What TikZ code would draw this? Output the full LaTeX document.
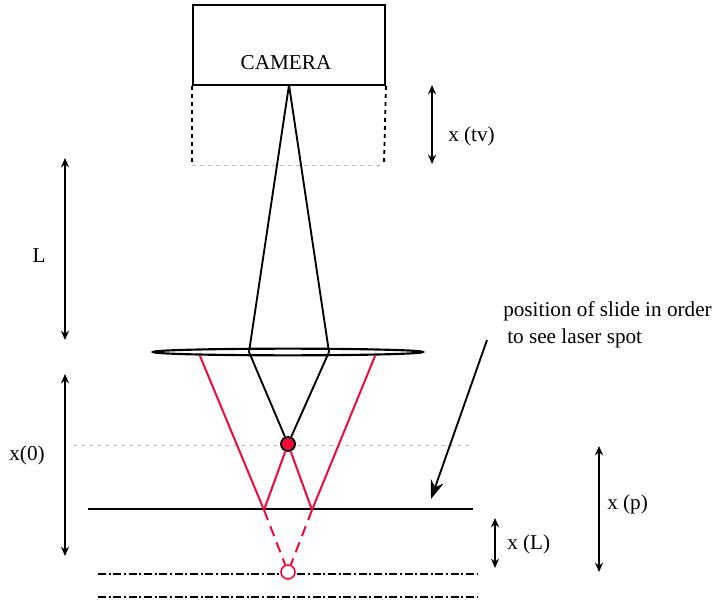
\documentclass[tikz,border=0pt]{standalone}
\usepackage{fontspec}
\setmainfont{Liberation Serif}
\usetikzlibrary{arrows.meta,positioning,calc,shapes.geometric}

\tikzset{
  label text/.style={font=\fontsize{15.9}{18}\selectfont,inner sep=0pt},
  ray/.style={line width=1.4pt},
  red ray/.style={line width=1.5pt,laserred},
  measure/.style={{Stealth[length=7pt,width=6pt]}-{Stealth[length=7pt,width=6pt]},line width=1.4pt},
  guide/.style={dashed,gray!50,line width=0.6pt},
  slide/.style={line width=1.4pt,dash pattern=on 6pt off 2pt on 1.5pt off 2pt}
}
\definecolor{laserred}{RGB}{240,10,60}

\begin{document}
\begin{tikzpicture}[x=0.75pt,y=-0.75pt]
  \useasboundingbox (0,0) rectangle (712,605);

  % Camera
  \node[draw,line width=1.4pt,minimum width=144pt,minimum height=60pt,inner sep=0pt] (camera) at (289,45) {};
  \node[label text] (cameratext) at (286,63) {CAMERA};
  \coordinate (apex) at (289,85);

  % Shifted camera position
  \coordinate (shiftL) at (192,165);
  \coordinate (shiftR) at (384,165);
  \draw[line width=1.4pt,dashed] (camera.south west) -- (shiftL);
  \draw[line width=1.4pt,dashed] (camera.south east) -- (shiftR);
  \draw[guide] (shiftL) -- (shiftR);

  % Lens
  \node[ellipse,draw,fill=white,line width=1.6pt,minimum width=202pt,minimum height=5pt,inner sep=0pt] (lens) at (288,352) {};
  \coordinate (lensL) at (249,352);
  \coordinate (lensR) at (329,352);
  \coordinate (lensLL) at (200,356);
  \coordinate (lensRR) at (375,356);

  % Guide through the spot
  \coordinate (guideL) at (73,445);
  \coordinate (guideR) at (472,445);
  \draw[guide] (guideL) -- (guideR);

  % Slide
  \coordinate (slideL) at (88,509);
  \coordinate (slideR) at (473,509);
  \draw[line width=1.4pt] (slideL) -- (slideR);
  \coordinate (hitL) at (264,510);
  \coordinate (hitR) at (312,510);

  % Lower plane
  \coordinate (planeAL) at (98,574);
  \coordinate (planeAR) at (478,574);
  \coordinate (planeBL) at (98,597);
  \coordinate (planeBR) at (478,597);
  \draw[slide] (planeAL) -- (planeAR);
  \draw[slide] (planeBL) -- (planeBR);

  % Rays
  \node[circle,draw,fill=laserred,line width=1.4pt,minimum size=10.5pt,inner sep=0pt] (spot) at (288,444) {};
  \node[circle,draw=laserred,fill=white,line width=1.2pt,minimum size=10.5pt,inner sep=0pt] (image) at (288,572) {};
  \draw[ray] (apex) -- (lensL);
  \draw[ray] (apex) -- (lensR);
  \draw[ray] (lensL) -- (spot);
  \draw[ray] (lensR) -- (spot);
  \draw[red ray] (lensLL) -- (hitL);
  \draw[red ray] (hitL) -- (spot);
  \draw[red ray] (lensRR) -- (hitR);
  \draw[red ray] (hitR) -- (spot);
  \draw[red ray,dash pattern=on 8pt off 5pt] (hitL) -- (image);
  \draw[red ray,dash pattern=on 8pt off 5pt] (hitR) -- (image);

  % Measures
  \coordinate (Ltop) at (65,158);
  \coordinate (Lbot) at (65,340);
  \coordinate (xzerotop) at (65,374);
  \coordinate (xzerobot) at (65,556);
  \coordinate (xtvtop) at (432,85);
  \coordinate (xtvbot) at (432,164);
  \coordinate (xLtop) at (495,518);
  \coordinate (xLbot) at (495,568);
  \coordinate (xptop) at (599,446);
  \coordinate (xpbot) at (599,572);
  \draw[measure] (Ltop) -- (Lbot);
  \draw[measure] (xzerotop) -- (xzerobot);
  \draw[measure] (xtvtop) -- (xtvbot);
  \draw[measure] (xLtop) -- (xLbot);
  \draw[measure] (xptop) -- (xpbot);

  % Labels
  \node[label text] (Ltext) at (39,256) {L};
  \node[label text] (xzerotext) at (27,455) {x(0)};
  \node[label text,anchor=west] (xtvtext) at (448,136) {x (tv)};
  \node[label text,anchor=west] (xLtext) at (507,544) {x (L)};
  \node[label text,anchor=west] (xptext) at (607,504) {x (p)};
  \node[label text,anchor=west] (posone) at (503,311) {position of slide in order};
  \node[label text,anchor=west] (postwo) at (507,338) {to see laser spot};

  % Pointer to the slide
  \coordinate (pointstart) at (487,340);
  \coordinate (pointend) at (431,499);
  \draw[-{Stealth[length=14pt,width=10pt]},line width=1.4pt] (pointstart) -- (pointend);
\end{tikzpicture}
\end{document}
